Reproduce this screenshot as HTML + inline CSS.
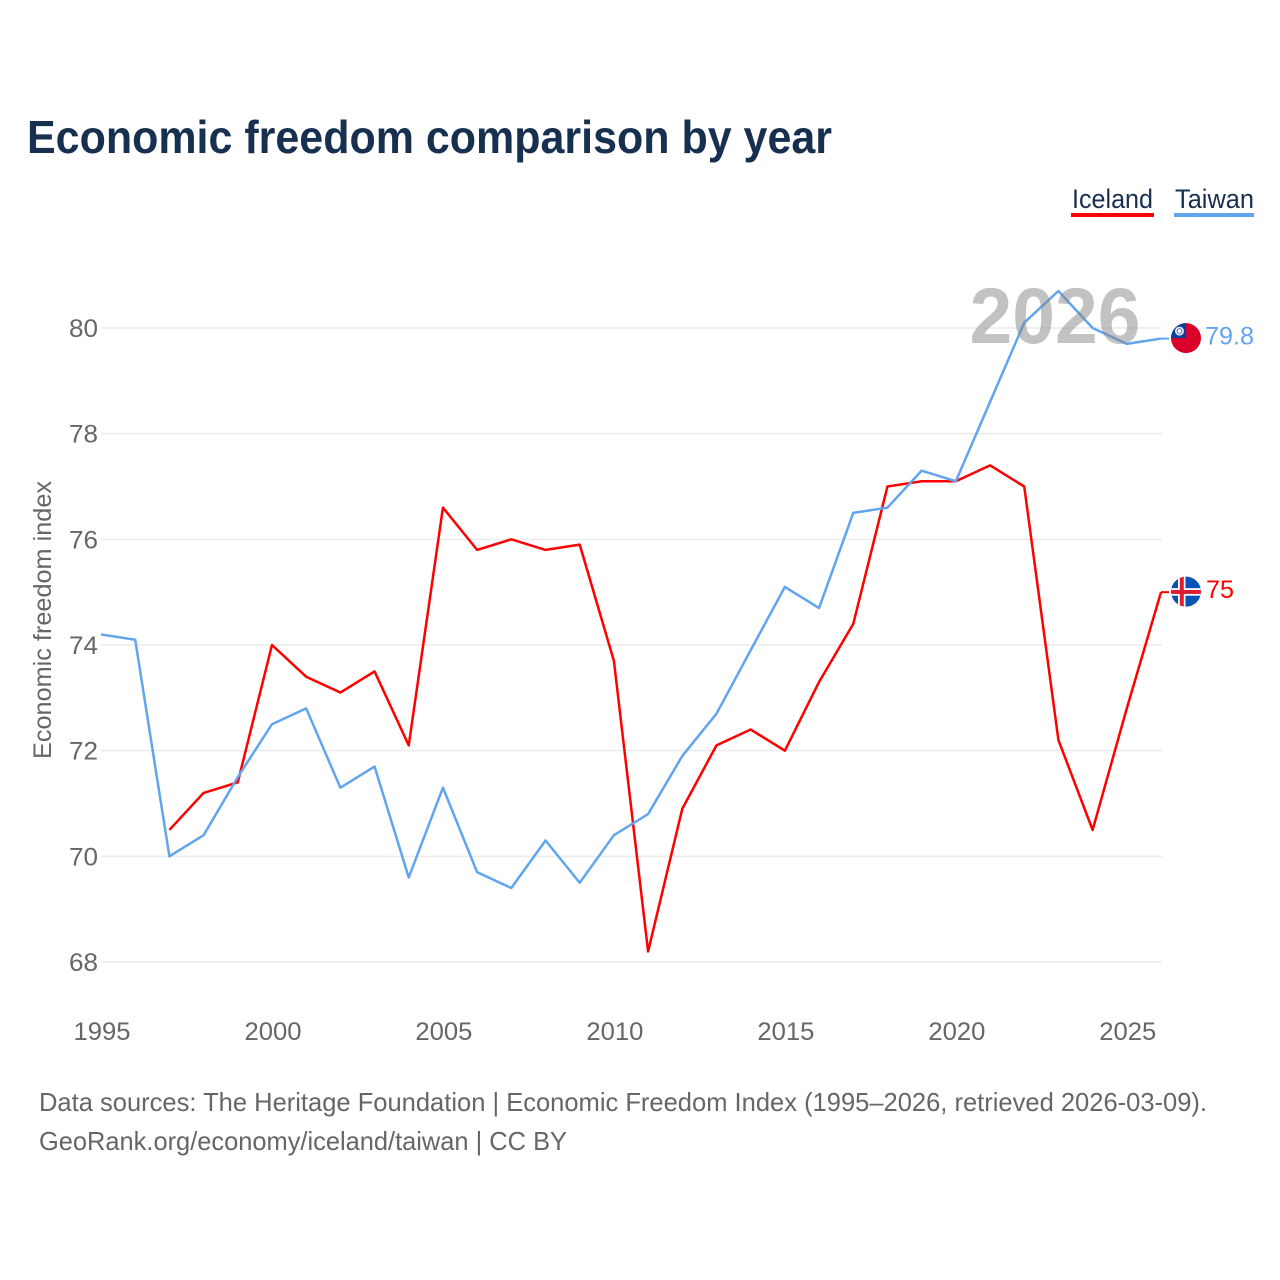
<!DOCTYPE html>
<html lang="en">
<head>
<meta charset="utf-8">
<title>Economic freedom comparison by year</title>
<style>
html,body{margin:0;padding:0;background:#fff}
svg{display:block}
text{font-family:"Liberation Sans",sans-serif}
</style>
</head>
<body>
<svg id="chart" xmlns="http://www.w3.org/2000/svg" width="1280" height="1280" viewBox="0 0 1280 1280">
  <rect width="1280" height="1280" fill="#fff"/>
  <text x="27" y="153" font-size="46" font-weight="700" fill="#17304f" textLength="805" lengthAdjust="spacingAndGlyphs">Economic freedom comparison by year</text>

  <g>
    <g>
      <text x="1072" y="208" font-size="27" fill="#17304f" textLength="81" lengthAdjust="spacingAndGlyphs">Iceland</text>
      <rect x="1071" y="213" width="83" height="4" fill="#ff0000"/>
    </g>
    <g>
      <text x="1175" y="208" font-size="27" fill="#17304f" textLength="79" lengthAdjust="spacingAndGlyphs">Taiwan</text>
      <rect x="1174" y="213" width="80" height="4" fill="#62a5ee"/>
    </g>
  </g>

  <g id="grid"></g>
  <g id="yticks"></g>
  <g id="xticks"></g>
  <text transform="translate(51,620) rotate(-90)" text-anchor="middle" font-size="25" fill="#666" textLength="278" lengthAdjust="spacingAndGlyphs">Economic freedom index</text>

  <g id="series"></g>

  <text id="year-label" x="1055" y="343" text-anchor="middle" font-size="79" font-weight="700" fill="#858585" fill-opacity="0.5" textLength="171" lengthAdjust="spacingAndGlyphs">2026</text>

  <g id="ends"></g>

  <text x="39" y="1111" font-size="26" fill="#666" textLength="1168" lengthAdjust="spacingAndGlyphs">Data sources: The Heritage Foundation | Economic Freedom Index (1995–2026, retrieved 2026-03-09).</text>
  <text x="39" y="1150" font-size="26" fill="#666" textLength="528" lengthAdjust="spacingAndGlyphs">GeoRank.org/economy/iceland/taiwan | CC BY</text>
</svg>
<script>
var years = [1995,1996,1997,1998,1999,2000,2001,2002,2003,2004,2005,2006,2007,2008,2009,2010,2011,2012,2013,2014,2015,2016,2017,2018,2019,2020,2021,2022,2023,2024,2025,2026];
var icelandValues = [null,null,70.5,71.2,71.4,74.0,73.4,73.1,73.5,72.1,76.6,75.8,76.0,75.8,75.9,73.7,68.2,70.9,72.1,72.4,72.0,73.3,74.4,77.0,77.1,77.1,77.4,77.0,72.2,70.5,72.8,75.0];
var taiwanValues = [74.2,74.1,70.0,70.4,71.5,72.5,72.8,71.3,71.7,69.6,71.3,69.7,69.4,70.3,69.5,70.4,70.8,71.9,72.7,73.9,75.1,74.7,76.5,76.6,77.3,77.1,78.6,80.1,80.7,80.0,79.7,79.8];
var yTickValues = [68,70,72,74,76,78,80];
var xTickValues = [1995,2000,2005,2010,2015,2020,2025];
var icelandEndLabel = "75";
var taiwanEndLabel = "79.8";

var NS = "http://www.w3.org/2000/svg";
function xScale(year){ return 101 + (year - 1995) * (1161 - 101) / (2026 - 1995); }
function yScale(value){ return 962 + (value - 68) * (328 - 962) / (80 - 68); }
function make(tag, attrs, parent){
  var el = document.createElementNS(NS, tag);
  for (var k in attrs) el.setAttribute(k, attrs[k]);
  parent.appendChild(el);
  return el;
}

var grid = document.getElementById("grid");
var yticks = document.getElementById("yticks");
var xticks = document.getElementById("xticks");
var series = document.getElementById("series");
var ends = document.getElementById("ends");

yTickValues.forEach(function(v){
  var line = make("line", {x1:101, x2:1162, y1:yScale(v), y2:yScale(v), stroke:"#ebebeb", "stroke-width":1.5}, grid);
  
  
  var t = make("text", {x:98, y:yScale(v)+9, "text-anchor":"end", "font-size":25, fill:"#666", textLength:29, lengthAdjust:"spacingAndGlyphs"}, yticks);
  
  
  t.textContent = v;
});

xTickValues.forEach(function(y){
  var t = make("text", {x:xScale(y)+1, y:1040, "text-anchor":"middle", "font-size":25, fill:"#666", textLength:57, lengthAdjust:"spacingAndGlyphs"}, xticks);
  
  
  t.textContent = y;
});

function linePath(values){
  var d = "", pen = false;
  values.forEach(function(v, i){
    if (v === null) { pen = false; return; }
    d += (pen ? "L" : "M") + xScale(years[i]).toFixed(2) + " " + yScale(v).toFixed(2);
    pen = true;
  });
  return d;
}
function lastValue(values){ return values[values.length - 1]; }

var icelandLine = make("path", {d:linePath(icelandValues), fill:"none", stroke:"#ff0000", "stroke-width":2.5, "stroke-linejoin":"round"}, series);


var taiwanLine = make("path", {d:linePath(taiwanValues), fill:"none", stroke:"#62a5ee", "stroke-width":2.5, "stroke-linejoin":"round"}, series);



var lastYear = years[years.length - 1];
var endX = xScale(lastYear);
var flagX = 1186;

/* Iceland end marker */
var iy = yScale(lastValue(icelandValues));
var iceLead = make("line", {x1:endX, x2:flagX-17, y1:iy, y2:iy, stroke:"#ff0000", "stroke-width":2}, ends);


var clipI = make("clipPath", {id:"clip-is"}, ends);
make("circle", {cx:flagX, cy:iy-0.5, r:15}, clipI);
var iceFlag = make("g", {"clip-path":"url(#clip-is)"}, ends);


make("rect", {x:flagX-15, y:iy-16, width:30, height:31, fill:"#0a52b4"}, iceFlag);
make("rect", {x:flagX-15, y:iy-4, width:30, height:7.5, fill:"#fff"}, iceFlag);
make("rect", {x:flagX-8, y:iy-16, width:7.5, height:31, fill:"#fff"}, iceFlag);
make("rect", {x:flagX-15, y:iy-2.2, width:30, height:4, fill:"#dc1e35"}, iceFlag);
make("rect", {x:flagX-6.2, y:iy-16, width:4, height:31, fill:"#dc1e35"}, iceFlag);
var iceLabel = make("text", {x:1206, y:iy+6, "font-size":25, fill:"#ff0000", textLength:28, lengthAdjust:"spacingAndGlyphs"}, ends);


iceLabel.textContent = icelandEndLabel;

/* Taiwan end marker */
var ty = yScale(lastValue(taiwanValues));
var twLead = make("line", {x1:endX, x2:flagX-17, y1:ty, y2:ty, stroke:"#62a5ee", "stroke-width":2}, ends);


var clipT = make("clipPath", {id:"clip-tw"}, ends);
make("circle", {cx:flagX, cy:ty-0.5, r:15}, clipT);
var twFlag = make("g", {"clip-path":"url(#clip-tw)"}, ends);


make("rect", {x:flagX-15, y:ty-16, width:30, height:31, fill:"#d9002a"}, twFlag);
make("rect", {x:flagX-15, y:ty-16, width:15, height:15.5, fill:"#0b3f9e"}, twFlag);
make("circle", {cx:flagX-6.5, cy:ty-7.5, r:4.5, fill:"#dfe6f4"}, twFlag);
make("circle", {cx:flagX-6.5, cy:ty-7.5, r:2.8, fill:"#4c74bd"}, twFlag);
make("circle", {cx:flagX-6.5, cy:ty-7.5, r:1.8, fill:"#fff"}, twFlag);
var twLabel = make("text", {x:1205, y:ty+6, "font-size":25, fill:"#62a5ee", textLength:49, lengthAdjust:"spacingAndGlyphs"}, ends);


twLabel.textContent = taiwanEndLabel;
</script>
</body>
</html>
